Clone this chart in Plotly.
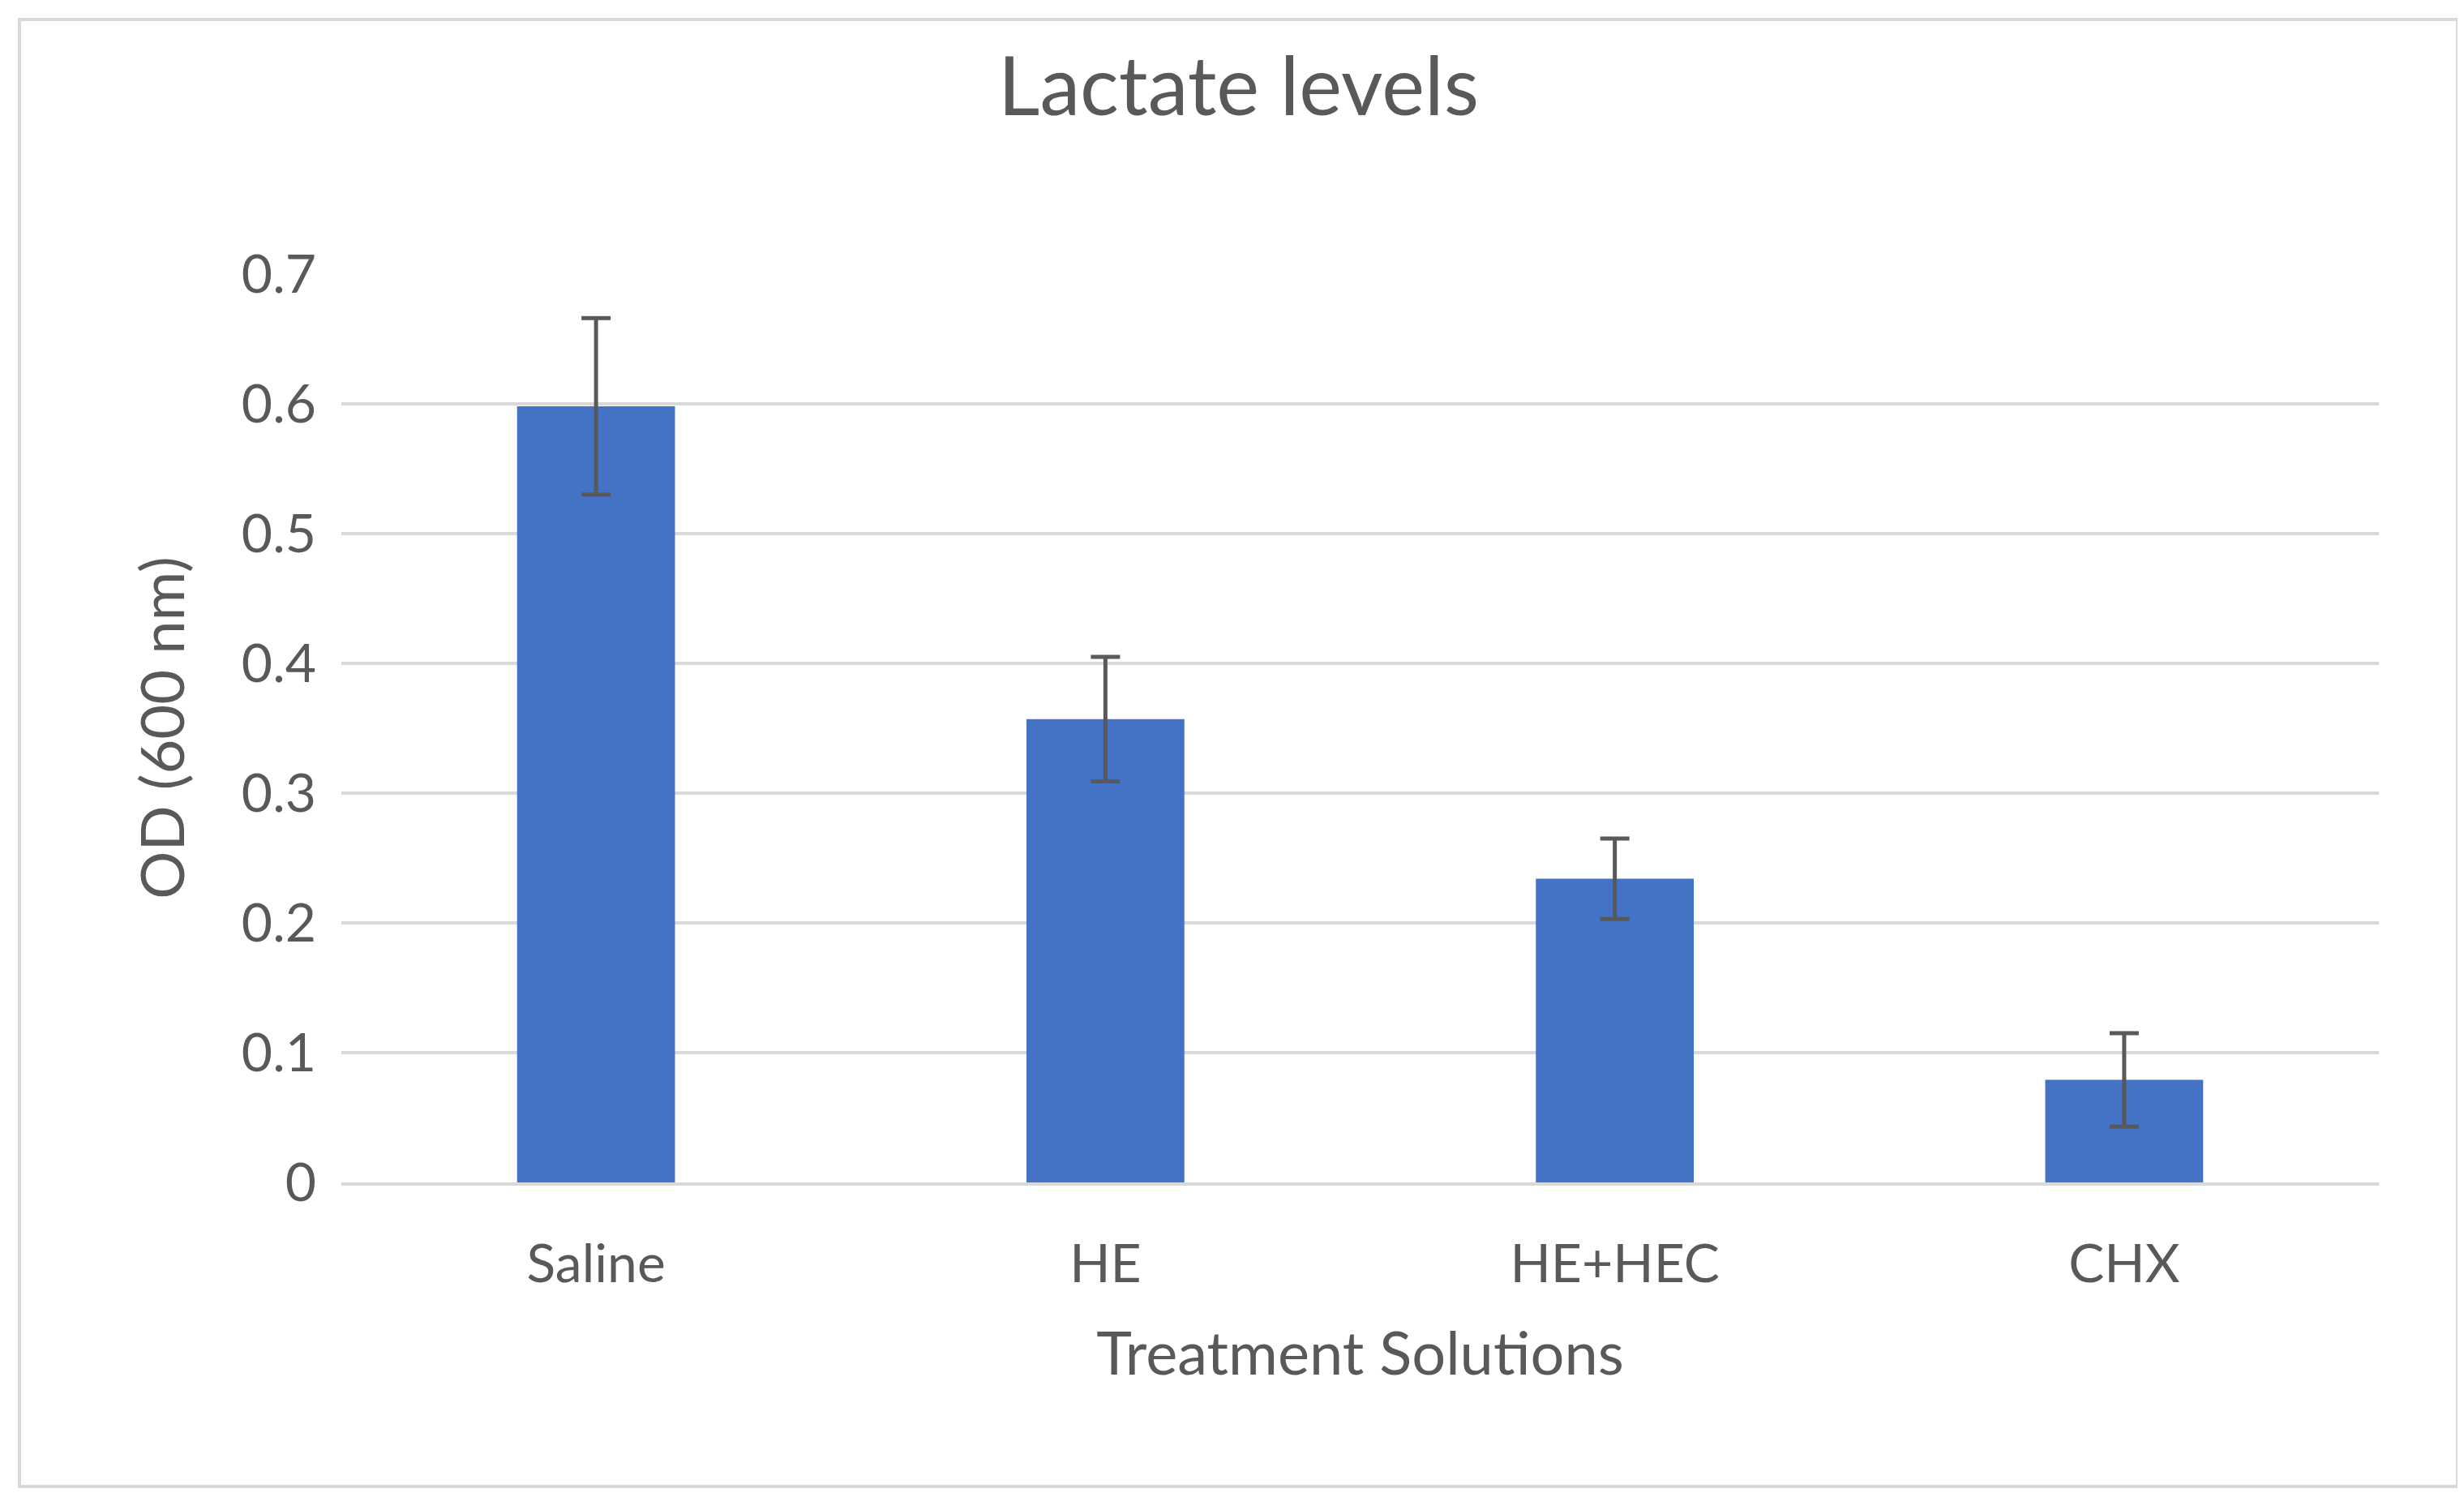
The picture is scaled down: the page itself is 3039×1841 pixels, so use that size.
import plotly.graph_objects as go

categories = ["Saline", "HE", "HE+HEC", "CHX"]
values = [0.598, 0.357, 0.234, 0.079]
errors = [0.068, 0.048, 0.031, 0.036]

W, H = 3039, 1841
L, R, T, B = 413, 113, 329, 391
PW, PH = W - L - R, H - T - B
font = "Lato, Open Sans, sans-serif"

fig = go.Figure()
fig.add_trace(go.Bar(
    x=categories, y=values,
    marker=dict(color="#4472c4", line=dict(width=0)),
    error_y=dict(type="data", array=errors, visible=True,
                 color="#595959", thickness=5, width=18),
))

fig.update_layout(
    width=W, height=H,
    margin=dict(l=L, r=R, t=T, b=B),
    paper_bgcolor="white", plot_bgcolor="white",
    bargap=0.69, showlegend=False,
    font=dict(family=font, color="#595959", size=66),
    title=dict(text="Lactate levels", x=0.5, xanchor="center",
               y=0.965, yanchor="top", font=dict(size=100, color="#595959")),
    xaxis=dict(title=dict(text="Treatment Solutions", font=dict(size=74), standoff=50),
               showgrid=False, showline=True, linecolor="#d9d9d9", linewidth=4,
               ticks="", tickfont=dict(size=66), ticklabelstandoff=40),
    yaxis=dict(title=dict(text="OD (600 nm)", font=dict(size=74), standoff=45),
               range=[0, 0.7005], dtick=0.1, tickformat="~g",
               showgrid=True, gridcolor="#d9d9d9", gridwidth=4,
               zeroline=False, ticks="", tickfont=dict(size=66), ticklabelstandoff=30),
    shapes=[dict(type="rect", xref="paper", yref="paper",
                 x0=-(L - 16) / PW, x1=1 + (R - 16) / PW,
                 y0=-(B - 16) / PH, y1=1 + (T - 16) / PH,
                 line=dict(color="#d9d9d9", width=4))],
)

fig.write_html("out.html")
